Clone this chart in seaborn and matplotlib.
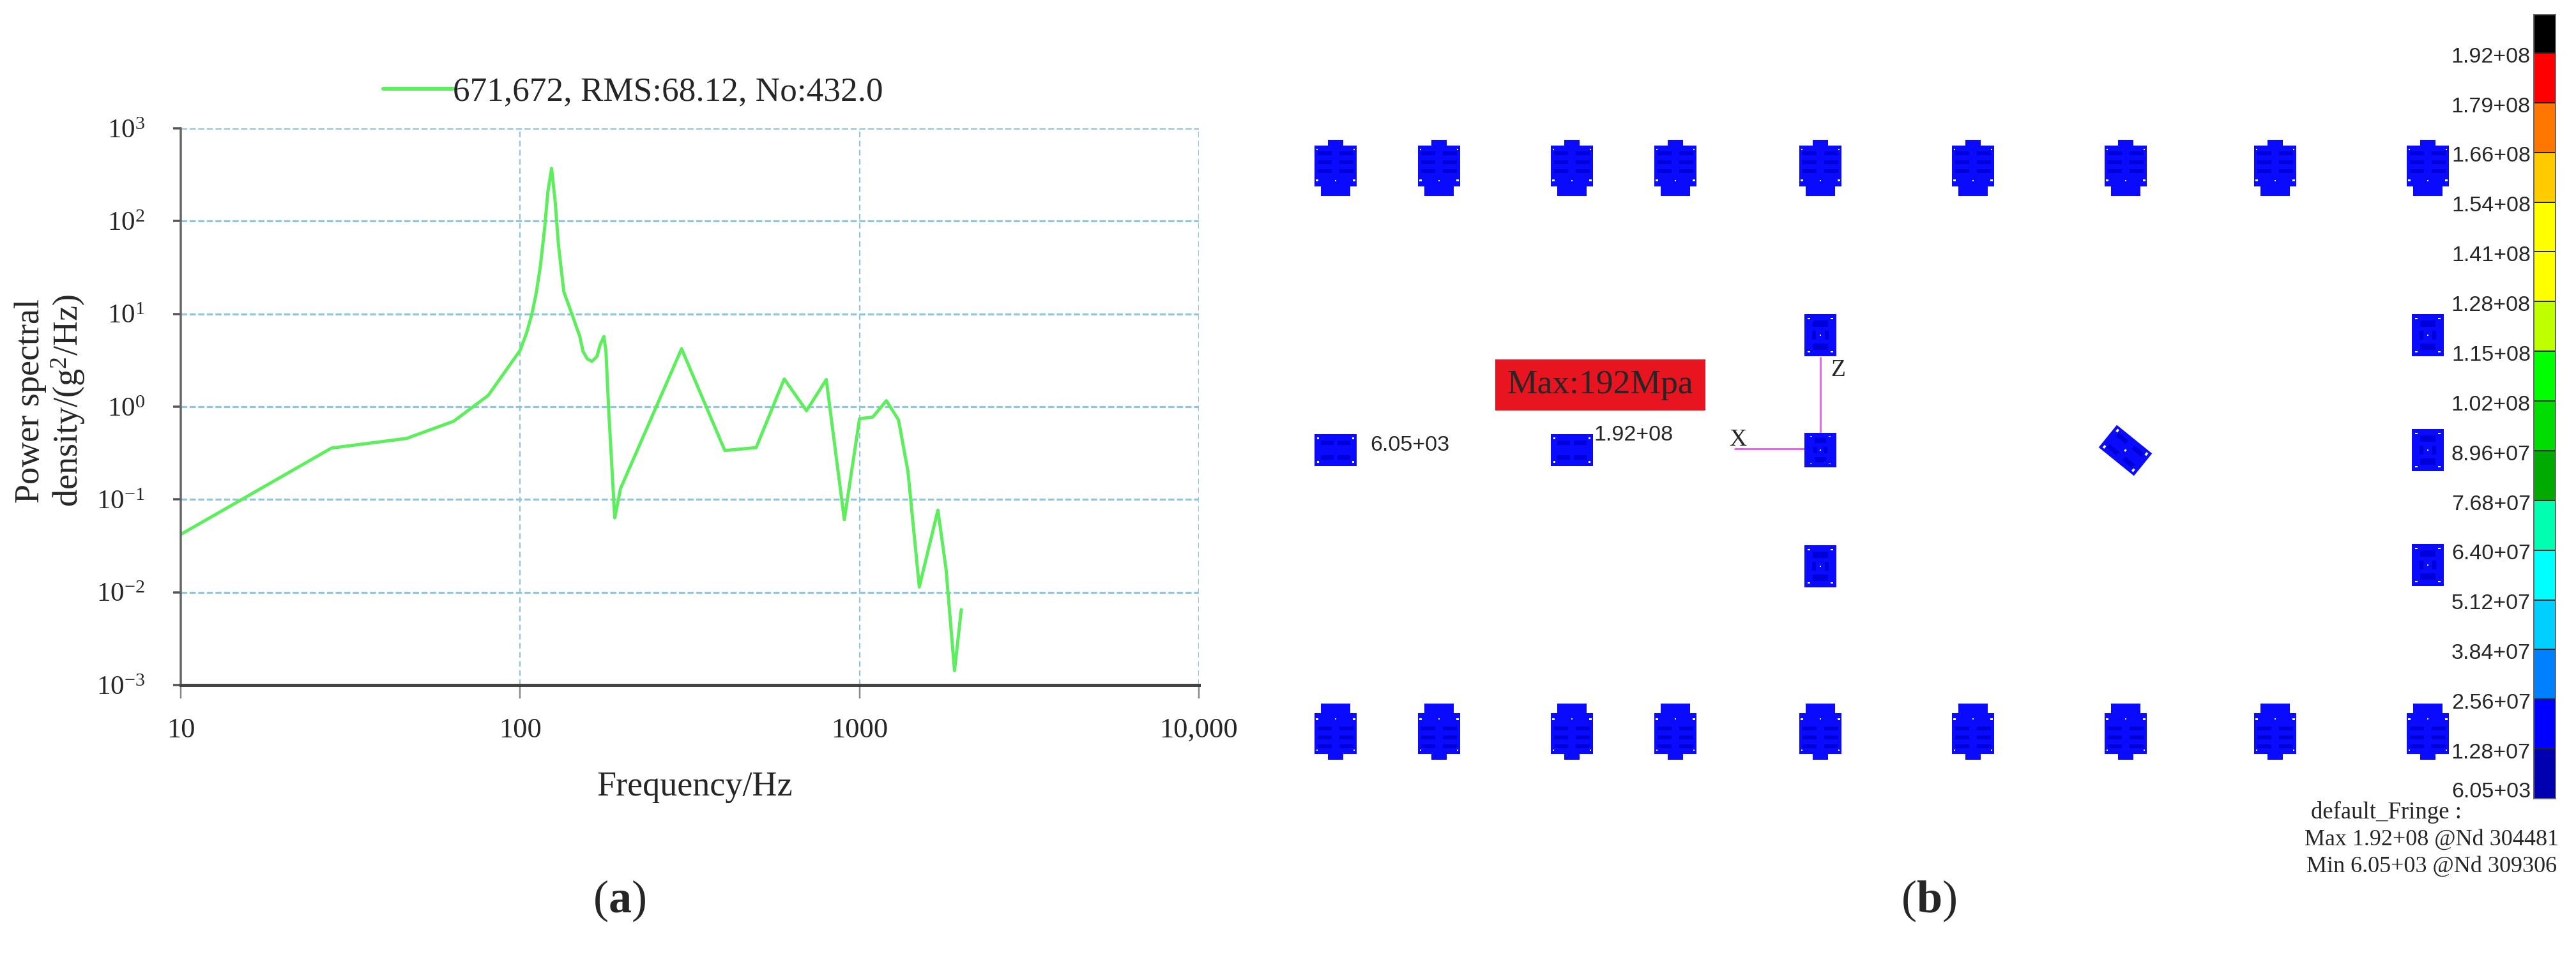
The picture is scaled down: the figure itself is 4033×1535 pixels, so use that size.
import numpy as np
import pandas as pd
import matplotlib
matplotlib.use("Agg")
import matplotlib.pyplot as plt
import seaborn as sns
from matplotlib.colors import ListedColormap
from matplotlib.path import Path
from matplotlib.transforms import Affine2D

# left panel: PSD curve
freq = [10, 27.8, 46.3, 63.7, 80.5, 100, 104.4, 108.3, 111.4, 114.7, 118.1, 120.7, 123.8,
        126.9, 129.7, 134.5, 142.5, 149.9, 153.2, 157.7, 162.7, 168.3, 172, 176.5, 179,
        182.7, 190, 197.6, 299, 401, 496, 600, 698, 798, 902, 1000, 1094, 1200, 1303,
        1389, 1500, 1702, 1799, 1905, 1995]
psd = [0.042, 0.358, 0.455, 0.697, 1.32, 4.05, 6.18, 9.95, 16.4, 32.6, 84.5, 207, 370,
       159, 55.3, 17.3, 9.68, 5.71, 3.94, 3.28, 3.08, 3.46, 4.62, 5.71, 3.94,
       0.81, 0.0633, 0.131, 4.21, 0.337, 0.362, 1.99, 0.905, 1.96, 0.0606, 0.741, 0.773,
       1.16, 0.72, 0.201, 0.0114, 0.0767, 0.0177, 0.00143, 0.00651]
legend_label = "671,672, RMS:68.12, No:432.0"
x_ticks = [10, 100, 1000, 10000]
x_tick_labels = ["10", "100", "1000", "10,000"]
y_exponents = [-3, -2, -1, 0, 1, 2, 3]

# right panel: plate centres in image pixels
top_x = [2091, 2253, 2461, 2623, 2850, 3089, 3328, 3562, 3801]
top_y = [263] * 9
bottom_y = [1146] * 9
wide_x = [2091, 2461]
wide_y = [705, 705]
tall_x = [2850, 2850, 3801, 3801, 3801]
tall_y = [525, 887, 525, 705, 885]
square_x = [2850]
square_y = [705]
tilted_x = [3327]
tilted_y = [705]

# fringe bar, top to bottom
fringe_colors = ["#000000", "#ff0000", "#ff7700", "#ffcc00", "#ffff00", "#ffff00", "#bfff00",
                 "#00ff00", "#00dd00", "#00aa00", "#00ffb0", "#00ffff", "#00d0ff", "#0080ff",
                 "#0000ff", "#0000b0"]
fringe_labels = ["1.92+08", "1.79+08", "1.66+08", "1.54+08", "1.41+08", "1.28+08", "1.15+08",
                 "1.02+08", "8.96+07", "7.68+07", "6.40+07", "5.12+07", "3.84+07", "2.56+07",
                 "1.28+07", "6.05+03"]

W, H = 4033, 1535
PX = 0.72  # points per pixel at dpi 100
SERIF = "Liberation Serif"
SANS = "Liberation Sans"
GREEN = "#5cee5c"
GRID = "#8fc6de"
PLATE = "#0a0aff"
PLATE_DARK = "#0000d8"

sns.set_style("white")
plt.rcParams["font.family"] = [SERIF, "DejaVu Sans"]
plt.rcParams["mathtext.fontset"] = "custom"
plt.rcParams["mathtext.rm"] = SERIF
plt.rcParams["mathtext.bf"] = SERIF + ":bold"
plt.rcParams["mathtext.default"] = "rm"

fig = plt.figure(figsize=(W / 100, H / 100), dpi=100)


def px_axes(left, top, right, bottom):
    return fig.add_axes([left / W, 1 - bottom / H, (right - left) / W, (bottom - top) / H])


# ---- panel (a)
ax = px_axes(283, 201, 1877, 1073)
ax.set_xscale("log")
ax.set_yscale("log")
df = pd.DataFrame({"freq": freq, "psd": psd})
sns.lineplot(data=df, x="freq", y="psd", color=GREEN, lw=5 * PX, estimator=None, sort=False,
             label=legend_label, ax=ax)
ax.set_xlim(10, 10000)
ax.set_ylim(1e-3, 1e3)
ax.set_xticks(x_ticks)
ax.set_xticklabels(x_tick_labels)
ax.set_yticks([10.0 ** e for e in y_exponents])
ax.set_yticklabels(["$10^{%d}$" % e for e in y_exponents])
ax.minorticks_off()
ax.tick_params(axis="x", length=21 * PX, width=2.5 * PX, color="#8a8a8a", labelsize=32, pad=30 * PX, bottom=True)
ax.tick_params(axis="y", length=12 * PX, width=3.5 * PX, color="#555555", labelsize=31, pad=44 * PX, left=True)
ax.grid(True, axis="y", color=GRID, ls=(0, (3, 1.2)), lw=3.2 * PX)
ax.grid(True, axis="x", color=GRID, ls=(0, (4, 2.5)), lw=2.2 * PX)
ax.set_axisbelow(True)
ax.spines["top"].set_visible(False)
ax.spines["right"].set_visible(False)
ax.spines["left"].set_color("#666666")
ax.spines["left"].set_linewidth(3.5 * PX)
ax.spines["bottom"].set_color("#444444")
ax.spines["bottom"].set_linewidth(5 * PX)
ax.set_xlabel("Frequency/Hz", fontsize=39)
ax.set_ylabel("Power spectral\ndensity/(g$^2$/Hz)", fontsize=39, linespacing=1.1)
ax.xaxis.set_label_coords((1088 - 283) / 1594, (1073 - 1207) / 872)
ax.yaxis.set_label_coords((136 - 283) / 1594, (1073 - 628) / 872)
leg = ax.legend(loc="center left", bbox_to_anchor=(600 / W, 1 - 144 / H), bbox_transform=fig.transFigure,
                frameon=False, fontsize=38.3, handlelength=2.05, handletextpad=0, borderpad=0, borderaxespad=0)
leg.get_lines()[0].set_linewidth(6 * PX)


# ---- panel (b), one overlay axes in image pixels
def make_marker(polys):
    verts, codes = [], []
    for p in polys:
        verts += list(p) + [p[0]]
        codes += [Path.MOVETO] + [Path.LINETO] * (len(p) - 1) + [Path.CLOSEPOLY]
    return Path(np.array(verts, dtype=float), codes)


def box(cx, cy, w, h):
    return [(cx - w / 2, cy - h / 2), (cx + w / 2, cy - h / 2), (cx + w / 2, cy + h / 2), (cx - w / 2, cy + h / 2)]


def stamp(xs, ys, polys, half_px, color, rotate=None, flip=False, zorder=3):
    path = make_marker(polys)
    if flip:
        path = path.transformed(Affine2D().scale(1, -1))
    if rotate is not None:
        path = path.transformed(Affine2D().rotate_deg(rotate))
    extent = np.abs(path.vertices).max()
    size = (2 * half_px * extent * PX) ** 2
    sns.scatterplot(x=xs, y=ys, marker=path, s=size, color=color, linewidth=0, ax=pax, zorder=zorder)


def plate(xs, ys, polys, dark, holes, half_px, rotate=None, flip=False):
    stamp(xs, ys, polys, half_px, PLATE, rotate, flip, 3)
    stamp(xs, ys, dark, half_px, PLATE_DARK, rotate, flip, 4)
    stamp(xs, ys, holes, half_px, "white", rotate, flip, 5)


pax = fig.add_axes([0, 0, 1, 1], zorder=-1)
pax.axis("off")
pax.patch.set_alpha(0)

block = [[(-0.27, 1), (0.27, 1), (0.27, 0.79), (0.76, 0.79), (0.76, -0.66), (0.52, -0.66), (0.52, -1),
          (-0.52, -1), (-0.52, -0.66), (-0.76, -0.66), (-0.76, 0.79), (-0.27, 0.79)]]
block_dark = [box(sx * 0.38, sy, 0.5, 0.13) for sx in (-1, 1) for sy in (0.52, 0.2, -0.12)]
block_holes = [box(sx * 0.66, 0.66, 0.05, 0.05) for sx in (-1, 1)] + \
              [box(sx * 0.66, -0.45, 0.08, 0.07) for sx in (-1, 1)] + [box(0, -0.45, 0.05, 0.05)]
plate(top_x, top_y, block, block_dark, block_holes, 44)
plate(top_x, bottom_y, block, block_dark, block_holes, 44, flip=True)

wide = [box(0, 0, 2, 1.5)]
wide_dark = [box(sx * 0.4, sy * 0.35, 0.6, 0.2) for sx in (-1, 1) for sy in (-1, 1)]
wide_holes = [box(sx * 0.82, sy * 0.55, 0.07, 0.09) for sx in (-1, 1) for sy in (-1, 1)]
plate(wide_x, wide_y, wide, wide_dark, wide_holes, 33.5)

tall = [box(0, 0, 1.5, 2)]
tall_dark = [box(0, sy * 0.55, 0.7, 0.3) for sy in (-1, 1)] + [box(sx * 0.3, 0, 0.2, 0.4) for sx in (-1, 1)]
tall_holes = [box(sx * 0.55, sy * 0.8, 0.12, 0.06) for sx in (-1, 1) for sy in (-1, 1)] + [box(0, 0, 0.07, 0.05)]
plate(tall_x, tall_y, tall, tall_dark, tall_holes, 33)
plate(square_x, square_y, [box(0, 0, 1.85, 2)], tall_dark, tall_holes, 27)

tilt = [box(0, 0, 2, 1.27)]
tilt_dark = [box(sx * 0.45, sy * 0.32, 0.55, 0.2) for sx in (-1, 1) for sy in (-1, 1)]
tilt_holes = [box(sx * 0.82, sy * 0.46, 0.1, 0.14) for sx in (-1, 1) for sy in (-1, 1)] + [box(0, 0, 0.08, 0.1)]
plate(tilted_x, tilted_y, tilt, tilt_dark, tilt_holes, 35.5, rotate=-39)

# coordinate triad
pax.plot([2716, 2850, 2850], [703, 703, 560], color="#e468e4", lw=3 * PX, zorder=2)
pax.text(2721, 689, "X", fontsize=27, ha="center", va="center")
pax.text(2878, 580, "Z", fontsize=27, ha="center", va="center")

pax.fill_between([2341, 2670], 563, 643, color="#e8141f", lw=0, zorder=1)
pax.text(2505.5, 603, "Max:192Mpa", fontsize=38.5, ha="center", va="center")
pax.text(2145, 697, "6.05+03", fontsize=24.5, family=SANS, ha="left", va="center")
pax.text(2495, 682, "1.92+08", fontsize=24.5, family=SANS, ha="left", va="center")

pax.text(3736, 1272, "default_Fringe :", fontsize=26.5, ha="center", va="center")
pax.text(3807, 1315, "Max 1.92+08 @Nd 304481", fontsize=26, ha="center", va="center")
pax.text(3807, 1357, "Min 6.05+03 @Nd 309306", fontsize=26, ha="center", va="center")

pax.text(970, 1411, "($\\mathbf{a}$)", fontsize=52, ha="center", va="center")
pax.text(3020, 1411, "($\\mathbf{b}$)", fontsize=52, ha="center", va="center")
pax.set_xlim(0, W)
pax.set_ylim(H, 0)

# fringe bar as a one-column heatmap
cax = px_axes(3967, 23, 4001, 1251)
cells = np.arange(len(fringe_colors)).reshape(-1, 1)
sns.heatmap(cells, cmap=ListedColormap(fringe_colors), cbar=False, linewidths=1.5 * PX,
            linecolor="#222222", xticklabels=False, ax=cax)
cax.set_ylim(16, 0.23)
tick_rows = [i + 1.08 for i in range(15)] + [15.86]
cax.set_yticks(tick_rows)
cax.set_yticklabels(fringe_labels, rotation=0, family=SANS, fontsize=24.5)
cax.tick_params(axis="y", length=0, pad=5 * PX, left=False)
for s in cax.spines.values():
    s.set_visible(True)
    s.set_color("#666666")
    s.set_linewidth(2 * PX)

fig.savefig("out.png", dpi=100)
